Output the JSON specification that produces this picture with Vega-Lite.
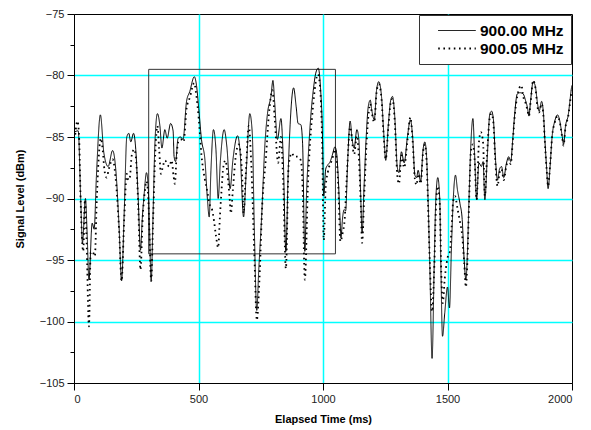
{
  "$schema": "https://vega.github.io/schema/vega-lite/v6.json",
  "width": 498,
  "height": 369,
  "autosize": "none",
  "padding": {"left": 74, "top": 14, "right": 19, "bottom": 47},
  "background": "white",
  "config": {
    "font": "Liberation Sans",
    "view": {"stroke": "black", "strokeWidth": 1},
    "legend": {
      "title": null, "orient": "top-right", "offset": 1,
      "strokeColor": "#333", "fillColor": "white", "padding": 7,
      "symbolType": "stroke", "symbolSize": 1414, "symbolStrokeColor": "black",
      "symbolOffset": 11, "labelOffset": 3, "clipHeight": 17,
      "labelFontSize": 15.5, "labelFontWeight": "bold", "labelColor": "black",
      "rowPadding": 1
    }
  },
  "encoding": {
    "x": {
      "field": "t", "type": "quantitative",
      "scale": {"domain": [0, 2000], "nice": false, "zero": false},
      "axis": {
        "title": "Elapsed Time (ms)", "values": [0, 500, 1000, 1500, 2000], "format": "d",
        "grid": true,
        "gridColor": {"condition": {"test": "datum.value == 0 || datum.value == 2000", "value": "transparent"}, "value": "#00FFFF"},
        "gridWidth": 1.5, "domainColor": "black", "tickColor": "black", "tickSize": 7,
        "labelFontSize": 11, "labelColor": "#222", "labelPadding": 3,
        "titleFontSize": 11, "titleFontWeight": "bold", "titleColor": "black", "titlePadding": 9
      }
    },
    "y": {
      "field": "v", "type": "quantitative",
      "scale": {"domain": [-105, -75], "nice": false, "zero": false},
      "axis": {
        "title": "Signal Level (dBm)",
        "values": [-105, -102.5, -100, -97.5, -95, -92.5, -90, -87.5, -85, -82.5, -80, -77.5, -75],
        "labelExpr": "datum.value % 5 == 0 ? datum.label : ''",
        "grid": true,
        "gridColor": {"condition": {"test": "datum.value % 5 != 0 || datum.value == -75 || datum.value == -105", "value": "transparent"}, "value": "#00FFFF"},
        "gridWidth": 1.5,
        "tickSize": {"condition": {"test": "datum.value % 5 != 0", "value": 4}, "value": 7},
        "domainColor": "black", "tickColor": "black",
        "labelFontSize": 11, "labelColor": "#222", "labelPadding": 3,
        "titleFontSize": 11, "titleFontWeight": "bold", "titleColor": "black", "titlePadding": 14
      }
    }
  },
  "layer": [
    {
      "data": {"values": [{"t": 300, "t2": 1050, "v": -79.5, "v2": -94.5}]},
      "mark": {"type": "rect", "fillOpacity": 0, "stroke": "#333", "strokeWidth": 1},
      "encoding": {"x2": {"field": "t2"}, "y2": {"field": "v2"}}
    },
    {
      "data": {"values": [
        {"t":0,"v":-84.6,"s":"900.00 MHz"},{"t":17,"v":-84.5,"s":"900.00 MHz"},{"t":27,"v":-90.1,"s":"900.00 MHz"},{"t":34,"v":-93.6,"s":"900.00 MHz"},{"t":46,"v":-90.0,"s":"900.00 MHz"},{"t":53,"v":-93,"s":"900.00 MHz"},{"t":60,"v":-96.6,"s":"900.00 MHz"},{"t":73,"v":-92.0,"s":"900.00 MHz"},{"t":81,"v":-92.5,"s":"900.00 MHz"},{"t":90,"v":-88.2,"s":"900.00 MHz"},{"t":106,"v":-83.2,"s":"900.00 MHz"},{"t":120,"v":-86.3,"s":"900.00 MHz"},{"t":137,"v":-87.4,"s":"900.00 MHz"},{"t":155,"v":-86.1,"s":"900.00 MHz"},{"t":168,"v":-87.7,"s":"900.00 MHz"},{"t":181,"v":-92.3,"s":"900.00 MHz"},{"t":191,"v":-96.7,"s":"900.00 MHz"},{"t":202,"v":-90.9,"s":"900.00 MHz"},{"t":212,"v":-85.0,"s":"900.00 MHz"},{"t":220,"v":-84.7,"s":"900.00 MHz"},{"t":228,"v":-85.4,"s":"900.00 MHz"},{"t":239,"v":-84.7,"s":"900.00 MHz"},{"t":248,"v":-86.0,"s":"900.00 MHz"},{"t":258,"v":-90.1,"s":"900.00 MHz"},{"t":267,"v":-94.2,"s":"900.00 MHz"},{"t":274,"v":-91.7,"s":"900.00 MHz"},{"t":282,"v":-89.6,"s":"900.00 MHz"},{"t":291,"v":-87.9,"s":"900.00 MHz"},{"t":298,"v":-89.0,"s":"900.00 MHz"},{"t":303,"v":-92.3,"s":"900.00 MHz"},{"t":310,"v":-96.7,"s":"900.00 MHz"},{"t":318,"v":-90.9,"s":"900.00 MHz"},{"t":325,"v":-85.5,"s":"900.00 MHz"},{"t":335,"v":-83.1,"s":"900.00 MHz"},{"t":345,"v":-84.1,"s":"900.00 MHz"},{"t":353,"v":-85.9,"s":"900.00 MHz"},{"t":365,"v":-84.4,"s":"900.00 MHz"},{"t":374,"v":-85.1,"s":"900.00 MHz"},{"t":388,"v":-83.9,"s":"900.00 MHz"},{"t":398,"v":-84.5,"s":"900.00 MHz"},{"t":402,"v":-86.6,"s":"900.00 MHz"},{"t":408,"v":-87.0,"s":"900.00 MHz"},{"t":418,"v":-85.1,"s":"900.00 MHz"},{"t":428,"v":-85.0,"s":"900.00 MHz"},{"t":438,"v":-85.2,"s":"900.00 MHz"},{"t":452,"v":-82.1,"s":"900.00 MHz"},{"t":465,"v":-81.3,"s":"900.00 MHz"},{"t":483,"v":-80.1,"s":"900.00 MHz"},{"t":492,"v":-80.8,"s":"900.00 MHz"},{"t":501,"v":-82.7,"s":"900.00 MHz"},{"t":512,"v":-85.2,"s":"900.00 MHz"},{"t":526,"v":-86.9,"s":"900.00 MHz"},{"t":536,"v":-90.1,"s":"900.00 MHz"},{"t":543,"v":-91.5,"s":"900.00 MHz"},{"t":550,"v":-87.7,"s":"900.00 MHz"},{"t":560,"v":-84.4,"s":"900.00 MHz"},{"t":570,"v":-86.0,"s":"900.00 MHz"},{"t":579,"v":-90.0,"s":"900.00 MHz"},{"t":588,"v":-86.9,"s":"900.00 MHz"},{"t":603,"v":-84.4,"s":"900.00 MHz"},{"t":614,"v":-85.8,"s":"900.00 MHz"},{"t":627,"v":-89.2,"s":"900.00 MHz"},{"t":638,"v":-86.9,"s":"900.00 MHz"},{"t":657,"v":-84.9,"s":"900.00 MHz"},{"t":667,"v":-86.2,"s":"900.00 MHz"},{"t":681,"v":-91.5,"s":"900.00 MHz"},{"t":692,"v":-87.7,"s":"900.00 MHz"},{"t":706,"v":-83.1,"s":"900.00 MHz"},{"t":716,"v":-84.7,"s":"900.00 MHz"},{"t":724,"v":-92.3,"s":"900.00 MHz"},{"t":734,"v":-99.1,"s":"900.00 MHz"},{"t":742,"v":-95.8,"s":"900.00 MHz"},{"t":753,"v":-91.7,"s":"900.00 MHz"},{"t":767,"v":-85.5,"s":"900.00 MHz"},{"t":777,"v":-83.1,"s":"900.00 MHz"},{"t":791,"v":-81.7,"s":"900.00 MHz"},{"t":799,"v":-80.4,"s":"900.00 MHz"},{"t":806,"v":-82.2,"s":"900.00 MHz"},{"t":817,"v":-85.2,"s":"900.00 MHz"},{"t":831,"v":-83.5,"s":"900.00 MHz"},{"t":840,"v":-86.5,"s":"900.00 MHz"},{"t":851,"v":-94.3,"s":"900.00 MHz"},{"t":860,"v":-88,"s":"900.00 MHz"},{"t":868,"v":-84,"s":"900.00 MHz"},{"t":882,"v":-81.0,"s":"900.00 MHz"},{"t":892,"v":-82.5,"s":"900.00 MHz"},{"t":900,"v":-83.9,"s":"900.00 MHz"},{"t":911,"v":-84.0,"s":"900.00 MHz"},{"t":918,"v":-85.5,"s":"900.00 MHz"},{"t":927,"v":-94.3,"s":"900.00 MHz"},{"t":934,"v":-89.5,"s":"900.00 MHz"},{"t":940,"v":-86.9,"s":"900.00 MHz"},{"t":951,"v":-83.3,"s":"900.00 MHz"},{"t":961,"v":-81.2,"s":"900.00 MHz"},{"t":971,"v":-79.8,"s":"900.00 MHz"},{"t":981,"v":-79.4,"s":"900.00 MHz"},{"t":990,"v":-81,"s":"900.00 MHz"},{"t":997,"v":-84.1,"s":"900.00 MHz"},{"t":1003,"v":-89.8,"s":"900.00 MHz"},{"t":1011,"v":-87.6,"s":"900.00 MHz"},{"t":1018,"v":-87.3,"s":"900.00 MHz"},{"t":1029,"v":-87.0,"s":"900.00 MHz"},{"t":1037,"v":-86.5,"s":"900.00 MHz"},{"t":1048,"v":-85.8,"s":"900.00 MHz"},{"t":1054,"v":-86.2,"s":"900.00 MHz"},{"t":1061,"v":-88.2,"s":"900.00 MHz"},{"t":1068,"v":-91.5,"s":"900.00 MHz"},{"t":1072,"v":-93.2,"s":"900.00 MHz"},{"t":1079,"v":-91.5,"s":"900.00 MHz"},{"t":1085,"v":-90.9,"s":"900.00 MHz"},{"t":1091,"v":-91.0,"s":"900.00 MHz"},{"t":1099,"v":-87.0,"s":"900.00 MHz"},{"t":1109,"v":-83.7,"s":"900.00 MHz"},{"t":1117,"v":-85.2,"s":"900.00 MHz"},{"t":1125,"v":-85.9,"s":"900.00 MHz"},{"t":1136,"v":-84.4,"s":"900.00 MHz"},{"t":1144,"v":-85.2,"s":"900.00 MHz"},{"t":1151,"v":-89.5,"s":"900.00 MHz"},{"t":1157,"v":-92.8,"s":"900.00 MHz"},{"t":1165,"v":-89,"s":"900.00 MHz"},{"t":1173,"v":-85.2,"s":"900.00 MHz"},{"t":1182,"v":-82.5,"s":"900.00 MHz"},{"t":1190,"v":-82.0,"s":"900.00 MHz"},{"t":1195,"v":-82.7,"s":"900.00 MHz"},{"t":1206,"v":-83.6,"s":"900.00 MHz"},{"t":1215,"v":-81.2,"s":"900.00 MHz"},{"t":1224,"v":-80.5,"s":"900.00 MHz"},{"t":1235,"v":-81.7,"s":"900.00 MHz"},{"t":1244,"v":-84.7,"s":"900.00 MHz"},{"t":1252,"v":-86.9,"s":"900.00 MHz"},{"t":1262,"v":-84.1,"s":"900.00 MHz"},{"t":1272,"v":-82.0,"s":"900.00 MHz"},{"t":1279,"v":-81.7,"s":"900.00 MHz"},{"t":1289,"v":-83.6,"s":"900.00 MHz"},{"t":1298,"v":-87.4,"s":"900.00 MHz"},{"t":1305,"v":-87.9,"s":"900.00 MHz"},{"t":1315,"v":-86.2,"s":"900.00 MHz"},{"t":1326,"v":-87.1,"s":"900.00 MHz"},{"t":1339,"v":-85.0,"s":"900.00 MHz"},{"t":1351,"v":-83.6,"s":"900.00 MHz"},{"t":1360,"v":-85.0,"s":"900.00 MHz"},{"t":1369,"v":-88.1,"s":"900.00 MHz"},{"t":1376,"v":-88.3,"s":"900.00 MHz"},{"t":1382,"v":-87.7,"s":"900.00 MHz"},{"t":1392,"v":-88.6,"s":"900.00 MHz"},{"t":1402,"v":-86.0,"s":"900.00 MHz"},{"t":1409,"v":-85.4,"s":"900.00 MHz"},{"t":1416,"v":-86.6,"s":"900.00 MHz"},{"t":1422,"v":-90.1,"s":"900.00 MHz"},{"t":1429,"v":-95.5,"s":"900.00 MHz"},{"t":1438,"v":-103.0,"s":"900.00 MHz"},{"t":1447,"v":-95.0,"s":"900.00 MHz"},{"t":1453,"v":-90.1,"s":"900.00 MHz"},{"t":1461,"v":-88.3,"s":"900.00 MHz"},{"t":1469,"v":-90.1,"s":"900.00 MHz"},{"t":1473,"v":-95.0,"s":"900.00 MHz"},{"t":1480,"v":-101.2,"s":"900.00 MHz"},{"t":1489,"v":-99.3,"s":"900.00 MHz"},{"t":1500,"v":-97.2,"s":"900.00 MHz"},{"t":1508,"v":-98.9,"s":"900.00 MHz"},{"t":1516,"v":-93.9,"s":"900.00 MHz"},{"t":1523,"v":-90.1,"s":"900.00 MHz"},{"t":1532,"v":-88.1,"s":"900.00 MHz"},{"t":1540,"v":-89.3,"s":"900.00 MHz"},{"t":1550,"v":-90.4,"s":"900.00 MHz"},{"t":1559,"v":-91.7,"s":"900.00 MHz"},{"t":1567,"v":-95.0,"s":"900.00 MHz"},{"t":1574,"v":-96.6,"s":"900.00 MHz"},{"t":1580,"v":-94.4,"s":"900.00 MHz"},{"t":1587,"v":-89.6,"s":"900.00 MHz"},{"t":1594,"v":-85.5,"s":"900.00 MHz"},{"t":1602,"v":-83.5,"s":"900.00 MHz"},{"t":1609,"v":-86.5,"s":"900.00 MHz"},{"t":1617,"v":-90.1,"s":"900.00 MHz"},{"t":1626,"v":-87.1,"s":"900.00 MHz"},{"t":1636,"v":-87.4,"s":"900.00 MHz"},{"t":1643,"v":-87.0,"s":"900.00 MHz"},{"t":1650,"v":-90.1,"s":"900.00 MHz"},{"t":1660,"v":-86.5,"s":"900.00 MHz"},{"t":1670,"v":-83.1,"s":"900.00 MHz"},{"t":1677,"v":-82.9,"s":"900.00 MHz"},{"t":1684,"v":-83.5,"s":"900.00 MHz"},{"t":1693,"v":-86.9,"s":"900.00 MHz"},{"t":1701,"v":-88.5,"s":"900.00 MHz"},{"t":1709,"v":-87.6,"s":"900.00 MHz"},{"t":1717,"v":-87.4,"s":"900.00 MHz"},{"t":1726,"v":-88.3,"s":"900.00 MHz"},{"t":1736,"v":-87.2,"s":"900.00 MHz"},{"t":1746,"v":-86.6,"s":"900.00 MHz"},{"t":1754,"v":-87.0,"s":"900.00 MHz"},{"t":1762,"v":-85.2,"s":"900.00 MHz"},{"t":1770,"v":-83.1,"s":"900.00 MHz"},{"t":1780,"v":-81.5,"s":"900.00 MHz"},{"t":1791,"v":-81.4,"s":"900.00 MHz"},{"t":1804,"v":-81.5,"s":"900.00 MHz"},{"t":1813,"v":-82.0,"s":"900.00 MHz"},{"t":1821,"v":-82.6,"s":"900.00 MHz"},{"t":1827,"v":-83.3,"s":"900.00 MHz"},{"t":1834,"v":-82.0,"s":"900.00 MHz"},{"t":1844,"v":-80.5,"s":"900.00 MHz"},{"t":1853,"v":-80.9,"s":"900.00 MHz"},{"t":1861,"v":-82.2,"s":"900.00 MHz"},{"t":1868,"v":-82.9,"s":"900.00 MHz"},{"t":1878,"v":-82.1,"s":"900.00 MHz"},{"t":1886,"v":-83.3,"s":"900.00 MHz"},{"t":1891,"v":-85.2,"s":"900.00 MHz"},{"t":1898,"v":-87.5,"s":"900.00 MHz"},{"t":1904,"v":-89.2,"s":"900.00 MHz"},{"t":1912,"v":-87.4,"s":"900.00 MHz"},{"t":1920,"v":-85.0,"s":"900.00 MHz"},{"t":1931,"v":-83.7,"s":"900.00 MHz"},{"t":1942,"v":-83.2,"s":"900.00 MHz"},{"t":1951,"v":-83.7,"s":"900.00 MHz"},{"t":1961,"v":-85.0,"s":"900.00 MHz"},{"t":1966,"v":-85.6,"s":"900.00 MHz"},{"t":1974,"v":-84.1,"s":"900.00 MHz"},{"t":1985,"v":-83.2,"s":"900.00 MHz"},{"t":1991,"v":-82.2,"s":"900.00 MHz"},{"t":1998,"v":-81.0,"s":"900.00 MHz"},{"t":2000,"v":-80.8,"s":"900.00 MHz"},

        {"t":5,"v":-84.8,"s":"900.05 MHz"},{"t":14,"v":-83.7,"s":"900.05 MHz"},{"t":20,"v":-84.8,"s":"900.05 MHz"},{"t":27,"v":-90.4,"s":"900.05 MHz"},{"t":37,"v":-94.3,"s":"900.05 MHz"},{"t":44,"v":-90.1,"s":"900.05 MHz"},{"t":50,"v":-93,"s":"900.05 MHz"},{"t":60,"v":-100.4,"s":"900.05 MHz"},{"t":67,"v":-94.4,"s":"900.05 MHz"},{"t":74,"v":-94.3,"s":"900.05 MHz"},{"t":84,"v":-94.7,"s":"900.05 MHz"},{"t":90,"v":-91,"s":"900.05 MHz"},{"t":97,"v":-87.5,"s":"900.05 MHz"},{"t":108,"v":-85.1,"s":"900.05 MHz"},{"t":115,"v":-86.0,"s":"900.05 MHz"},{"t":123,"v":-87.8,"s":"900.05 MHz"},{"t":131,"v":-88.3,"s":"900.05 MHz"},{"t":140,"v":-87.6,"s":"900.05 MHz"},{"t":155,"v":-86.8,"s":"900.05 MHz"},{"t":166,"v":-88.1,"s":"900.05 MHz"},{"t":181,"v":-92.5,"s":"900.05 MHz"},{"t":191,"v":-96.7,"s":"900.05 MHz"},{"t":202,"v":-91.5,"s":"900.05 MHz"},{"t":212,"v":-88.0,"s":"900.05 MHz"},{"t":218,"v":-88.5,"s":"900.05 MHz"},{"t":224,"v":-88.3,"s":"900.05 MHz"},{"t":232,"v":-86.5,"s":"900.05 MHz"},{"t":242,"v":-86,"s":"900.05 MHz"},{"t":250,"v":-87,"s":"900.05 MHz"},{"t":258,"v":-90.6,"s":"900.05 MHz"},{"t":267,"v":-95.8,"s":"900.05 MHz"},{"t":276,"v":-91.5,"s":"900.05 MHz"},{"t":284,"v":-89.5,"s":"900.05 MHz"},{"t":291,"v":-88.6,"s":"900.05 MHz"},{"t":298,"v":-89.8,"s":"900.05 MHz"},{"t":303,"v":-92.8,"s":"900.05 MHz"},{"t":310,"v":-96.7,"s":"900.05 MHz"},{"t":318,"v":-91.5,"s":"900.05 MHz"},{"t":326,"v":-86.5,"s":"900.05 MHz"},{"t":335,"v":-84.1,"s":"900.05 MHz"},{"t":342,"v":-86,"s":"900.05 MHz"},{"t":349,"v":-88.0,"s":"900.05 MHz"},{"t":358,"v":-87.3,"s":"900.05 MHz"},{"t":366,"v":-86.9,"s":"900.05 MHz"},{"t":374,"v":-87.2,"s":"900.05 MHz"},{"t":383,"v":-87.4,"s":"900.05 MHz"},{"t":392,"v":-86.9,"s":"900.05 MHz"},{"t":400,"v":-88.2,"s":"900.05 MHz"},{"t":405,"v":-88.8,"s":"900.05 MHz"},{"t":412,"v":-86.5,"s":"900.05 MHz"},{"t":420,"v":-85.3,"s":"900.05 MHz"},{"t":430,"v":-85.2,"s":"900.05 MHz"},{"t":440,"v":-85.4,"s":"900.05 MHz"},{"t":452,"v":-82.7,"s":"900.05 MHz"},{"t":465,"v":-81.8,"s":"900.05 MHz"},{"t":483,"v":-80.6,"s":"900.05 MHz"},{"t":490,"v":-81.4,"s":"900.05 MHz"},{"t":501,"v":-83.5,"s":"900.05 MHz"},{"t":512,"v":-86.5,"s":"900.05 MHz"},{"t":526,"v":-88.5,"s":"900.05 MHz"},{"t":536,"v":-89.5,"s":"900.05 MHz"},{"t":545,"v":-90.5,"s":"900.05 MHz"},{"t":552,"v":-90.7,"s":"900.05 MHz"},{"t":560,"v":-91.5,"s":"900.05 MHz"},{"t":570,"v":-93,"s":"900.05 MHz"},{"t":579,"v":-94.0,"s":"900.05 MHz"},{"t":586,"v":-91.5,"s":"900.05 MHz"},{"t":592,"v":-89.5,"s":"900.05 MHz"},{"t":600,"v":-87.4,"s":"900.05 MHz"},{"t":608,"v":-86.9,"s":"900.05 MHz"},{"t":616,"v":-87.9,"s":"900.05 MHz"},{"t":625,"v":-90,"s":"900.05 MHz"},{"t":630,"v":-91.2,"s":"900.05 MHz"},{"t":638,"v":-89.3,"s":"900.05 MHz"},{"t":650,"v":-86.5,"s":"900.05 MHz"},{"t":661,"v":-85.6,"s":"900.05 MHz"},{"t":670,"v":-86.5,"s":"900.05 MHz"},{"t":676,"v":-88.5,"s":"900.05 MHz"},{"t":681,"v":-91.2,"s":"900.05 MHz"},{"t":690,"v":-88,"s":"900.05 MHz"},{"t":702,"v":-84.1,"s":"900.05 MHz"},{"t":712,"v":-87.2,"s":"900.05 MHz"},{"t":725,"v":-95,"s":"900.05 MHz"},{"t":734,"v":-99.9,"s":"900.05 MHz"},{"t":745,"v":-96.5,"s":"900.05 MHz"},{"t":756,"v":-90.5,"s":"900.05 MHz"},{"t":770,"v":-86.9,"s":"900.05 MHz"},{"t":783,"v":-83.1,"s":"900.05 MHz"},{"t":797,"v":-81.2,"s":"900.05 MHz"},{"t":806,"v":-83.5,"s":"900.05 MHz"},{"t":820,"v":-87.1,"s":"900.05 MHz"},{"t":831,"v":-85,"s":"900.05 MHz"},{"t":840,"v":-88.5,"s":"900.05 MHz"},{"t":851,"v":-95.7,"s":"900.05 MHz"},{"t":862,"v":-87.3,"s":"900.05 MHz"},{"t":875,"v":-86.3,"s":"900.05 MHz"},{"t":884,"v":-86.6,"s":"900.05 MHz"},{"t":897,"v":-86.6,"s":"900.05 MHz"},{"t":911,"v":-86.9,"s":"900.05 MHz"},{"t":918,"v":-89,"s":"900.05 MHz"},{"t":927,"v":-96.6,"s":"900.05 MHz"},{"t":940,"v":-88.6,"s":"900.05 MHz"},{"t":960,"v":-82.5,"s":"900.05 MHz"},{"t":980,"v":-79.9,"s":"900.05 MHz"},{"t":990,"v":-81.5,"s":"900.05 MHz"},{"t":997,"v":-85.8,"s":"900.05 MHz"},{"t":1003,"v":-93.4,"s":"900.05 MHz"},{"t":1011,"v":-89,"s":"900.05 MHz"},{"t":1020,"v":-87.8,"s":"900.05 MHz"},{"t":1037,"v":-86.8,"s":"900.05 MHz"},{"t":1048,"v":-86.0,"s":"900.05 MHz"},{"t":1061,"v":-88.8,"s":"900.05 MHz"},{"t":1070,"v":-93.5,"s":"900.05 MHz"},{"t":1079,"v":-92.8,"s":"900.05 MHz"},{"t":1087,"v":-91.7,"s":"900.05 MHz"},{"t":1095,"v":-88.5,"s":"900.05 MHz"},{"t":1109,"v":-84.2,"s":"900.05 MHz"},{"t":1125,"v":-86.4,"s":"900.05 MHz"},{"t":1136,"v":-84.9,"s":"900.05 MHz"},{"t":1151,"v":-90,"s":"900.05 MHz"},{"t":1157,"v":-93.6,"s":"900.05 MHz"},{"t":1166,"v":-89.5,"s":"900.05 MHz"},{"t":1175,"v":-85.5,"s":"900.05 MHz"},{"t":1190,"v":-82.3,"s":"900.05 MHz"},{"t":1195,"v":-82.9,"s":"900.05 MHz"},{"t":1206,"v":-83.8,"s":"900.05 MHz"},{"t":1215,"v":-81.4,"s":"900.05 MHz"},{"t":1224,"v":-80.7,"s":"900.05 MHz"},{"t":1235,"v":-81.9,"s":"900.05 MHz"},{"t":1244,"v":-85.0,"s":"900.05 MHz"},{"t":1252,"v":-86.8,"s":"900.05 MHz"},{"t":1262,"v":-84.3,"s":"900.05 MHz"},{"t":1272,"v":-82.2,"s":"900.05 MHz"},{"t":1279,"v":-81.9,"s":"900.05 MHz"},{"t":1289,"v":-84.0,"s":"900.05 MHz"},{"t":1298,"v":-88.0,"s":"900.05 MHz"},{"t":1305,"v":-88.8,"s":"900.05 MHz"},{"t":1315,"v":-86.5,"s":"900.05 MHz"},{"t":1326,"v":-87.5,"s":"900.05 MHz"},{"t":1339,"v":-85.3,"s":"900.05 MHz"},{"t":1351,"v":-83.4,"s":"900.05 MHz"},{"t":1360,"v":-85.3,"s":"900.05 MHz"},{"t":1369,"v":-88.4,"s":"900.05 MHz"},{"t":1376,"v":-88.9,"s":"900.05 MHz"},{"t":1382,"v":-88.0,"s":"900.05 MHz"},{"t":1392,"v":-88.8,"s":"900.05 MHz"},{"t":1402,"v":-86.2,"s":"900.05 MHz"},{"t":1409,"v":-85.6,"s":"900.05 MHz"},{"t":1416,"v":-86.9,"s":"900.05 MHz"},{"t":1422,"v":-90.5,"s":"900.05 MHz"},{"t":1429,"v":-95.2,"s":"900.05 MHz"},{"t":1438,"v":-99.2,"s":"900.05 MHz"},{"t":1447,"v":-95.5,"s":"900.05 MHz"},{"t":1453,"v":-91,"s":"900.05 MHz"},{"t":1461,"v":-89,"s":"900.05 MHz"},{"t":1469,"v":-90.5,"s":"900.05 MHz"},{"t":1475,"v":-96,"s":"900.05 MHz"},{"t":1481,"v":-98.5,"s":"900.05 MHz"},{"t":1489,"v":-96.5,"s":"900.05 MHz"},{"t":1497,"v":-95.2,"s":"900.05 MHz"},{"t":1503,"v":-94.6,"s":"900.05 MHz"},{"t":1510,"v":-94.3,"s":"900.05 MHz"},{"t":1516,"v":-92.5,"s":"900.05 MHz"},{"t":1523,"v":-90.2,"s":"900.05 MHz"},{"t":1530,"v":-89.8,"s":"900.05 MHz"},{"t":1540,"v":-90.8,"s":"900.05 MHz"},{"t":1550,"v":-91.9,"s":"900.05 MHz"},{"t":1559,"v":-93.0,"s":"900.05 MHz"},{"t":1567,"v":-95.2,"s":"900.05 MHz"},{"t":1574,"v":-97.2,"s":"900.05 MHz"},{"t":1580,"v":-95,"s":"900.05 MHz"},{"t":1587,"v":-90,"s":"900.05 MHz"},{"t":1594,"v":-86.2,"s":"900.05 MHz"},{"t":1602,"v":-85.6,"s":"900.05 MHz"},{"t":1609,"v":-86.8,"s":"900.05 MHz"},{"t":1617,"v":-90.1,"s":"900.05 MHz"},{"t":1626,"v":-85.5,"s":"900.05 MHz"},{"t":1634,"v":-84.6,"s":"900.05 MHz"},{"t":1643,"v":-85.5,"s":"900.05 MHz"},{"t":1650,"v":-89.8,"s":"900.05 MHz"},{"t":1660,"v":-86,"s":"900.05 MHz"},{"t":1670,"v":-83.4,"s":"900.05 MHz"},{"t":1677,"v":-83.1,"s":"900.05 MHz"},{"t":1684,"v":-83.8,"s":"900.05 MHz"},{"t":1693,"v":-87.3,"s":"900.05 MHz"},{"t":1701,"v":-89.0,"s":"900.05 MHz"},{"t":1709,"v":-87.9,"s":"900.05 MHz"},{"t":1717,"v":-87.6,"s":"900.05 MHz"},{"t":1726,"v":-88.5,"s":"900.05 MHz"},{"t":1736,"v":-87.4,"s":"900.05 MHz"},{"t":1746,"v":-86.8,"s":"900.05 MHz"},{"t":1754,"v":-87.2,"s":"900.05 MHz"},{"t":1762,"v":-85.4,"s":"900.05 MHz"},{"t":1770,"v":-83.3,"s":"900.05 MHz"},{"t":1780,"v":-81.7,"s":"900.05 MHz"},{"t":1797,"v":-80.8,"s":"900.05 MHz"},{"t":1804,"v":-81.7,"s":"900.05 MHz"},{"t":1813,"v":-82.2,"s":"900.05 MHz"},{"t":1821,"v":-82.8,"s":"900.05 MHz"},{"t":1827,"v":-83.3,"s":"900.05 MHz"},{"t":1834,"v":-82.1,"s":"900.05 MHz"},{"t":1844,"v":-80.4,"s":"900.05 MHz"},{"t":1853,"v":-81.0,"s":"900.05 MHz"},{"t":1861,"v":-82.5,"s":"900.05 MHz"},{"t":1868,"v":-83.0,"s":"900.05 MHz"},{"t":1878,"v":-82.3,"s":"900.05 MHz"},{"t":1886,"v":-83.5,"s":"900.05 MHz"},{"t":1891,"v":-85.4,"s":"900.05 MHz"},{"t":1898,"v":-87.6,"s":"900.05 MHz"},{"t":1904,"v":-89.0,"s":"900.05 MHz"},{"t":1912,"v":-87.3,"s":"900.05 MHz"},{"t":1920,"v":-85.0,"s":"900.05 MHz"},{"t":1931,"v":-83.8,"s":"900.05 MHz"},{"t":1942,"v":-83.3,"s":"900.05 MHz"},{"t":1951,"v":-83.8,"s":"900.05 MHz"},{"t":1961,"v":-85.1,"s":"900.05 MHz"},{"t":1966,"v":-85.7,"s":"900.05 MHz"},{"t":1974,"v":-84.2,"s":"900.05 MHz"},{"t":1985,"v":-83.3,"s":"900.05 MHz"},{"t":1991,"v":-82.4,"s":"900.05 MHz"},{"t":1998,"v":-81.2,"s":"900.05 MHz"}
      ]},
      "mark": {"type": "line", "interpolate": "monotone", "color": "black", "clip": true},
      "encoding": {
        "strokeDash": {
          "field": "s", "type": "nominal",
          "scale": {"domain": ["900.00 MHz", "900.05 MHz"], "range": [[1, 0], [1.6, 3.6]]},
          "legend": {"title": null}
        },
        "strokeWidth": {
          "field": "s", "type": "nominal",
          "scale": {"domain": ["900.00 MHz", "900.05 MHz"], "range": [1, 1.8]},
          "legend": null
        }
      }
    }
  ]
}
